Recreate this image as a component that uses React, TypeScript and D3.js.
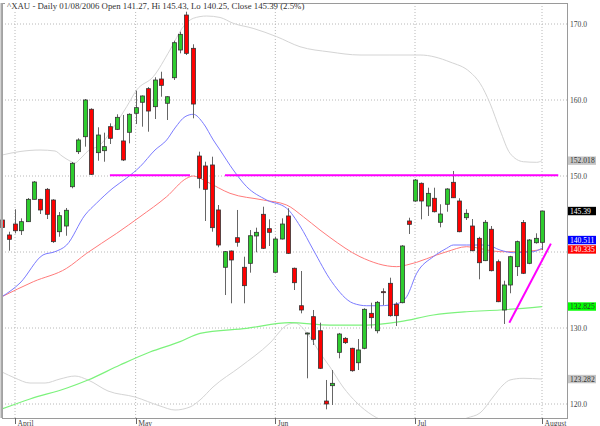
import React from 'react';
import * as d3 from 'd3';

// ---------- DATA ----------
const startIndex = -2; // trading-day index of first candle (Apr 3, 2006 = 0)
const opens = [144.21,142.24,143.68,142.80,143.99,146.93,146.93,148.25,146.84,142.67,143.42,148.59,153.20,155.17,158.78,153.07,153.33,156.49,156.14,154.61,155.75,158.25,159.70,161.49,159.12,162.76,159.57,162.93,166.58,171.18,166.80,152.63,151.32,151.45,145.53,137.99,140.13,141.88,137.99,138.51,142.11,144.96,143.07,137.33,141.71,144.74,137.86,132.93,129.24,131.49,129.64,120.39,122.41,126.80,128.64,127.33,125.43,127.33,131.93,129.64,134.78,135.88,133.12,133.33,144.08,146.71,149.04,146.05,147.07,143.91,146.28,149.17,146.71,144.51,143.42,141.80,138.86,142.99,138.72,132.37,135.66,138.07,143.87,138.51,141.22,141.27];
const highs = [144.64,142.67,145.62,144.43,147.10,149.34,147.00,148.42,146.95,145.26,145.79,151.84,154.96,160.13,158.91,156.41,155.70,156.93,158.12,158.03,158.25,161.22,160.60,161.70,162.99,163.72,160.50,167.80,168.99,171.62,167.33,153.20,151.88,152.54,146.18,140.13,140.20,145.53,139.38,142.89,143.20,145.96,144.30,142.01,144.43,145.75,137.95,137.50,129.40,132.37,130.70,123.16,124.47,129.35,128.80,127.40,128.55,132.60,133.33,133.55,135.22,136.62,133.38,140.90,144.51,149.60,149.15,148.46,148.46,146.28,148.40,150.66,147.07,145.62,144.34,142.00,144.21,143.42,139.00,136.22,139.50,141.50,144.21,141.70,142.46,145.43];
const lows = [142.01,140.17,142.46,142.24,143.95,146.93,145.00,144.34,141.20,142.01,142.14,148.38,152.89,153.86,150.13,152.01,151.88,154.21,156.05,151.97,154.30,156.84,156.49,155.83,157.50,160.43,157.37,162.63,166.14,165.92,157.59,148.38,144.08,142.67,140.62,134.34,133.25,140.70,133.25,137.28,139.96,140.40,140.79,137.30,141.65,139.75,135.00,131.93,123.38,127.76,124.60,119.30,119.87,126.01,127.90,124.25,124.47,127.20,129.96,129.30,133.03,131.50,130.26,133.25,142.37,146.60,144.30,144.74,145.20,143.25,145.30,147.10,142.60,144.21,140.10,136.41,138.80,137.45,133.40,130.53,134.57,136.84,137.10,138.40,141.10,140.25];
const closes = [143.22,141.67,142.80,143.99,146.93,149.21,145.53,144.96,141.36,144.78,145.49,151.67,154.74,160.00,150.22,155.39,153.86,154.96,157.72,152.11,158.12,158.99,160.53,158.55,162.63,161.93,160.43,167.54,168.64,166.14,159.47,149.70,148.25,143.20,140.92,140.04,138.95,141.28,135.57,142.14,142.59,140.49,142.59,141.71,143.68,139.83,135.96,132.37,129.34,128.51,124.70,120.00,122.72,129.21,128.07,124.38,127.11,132.46,131.36,133.38,134.74,131.62,131.62,140.79,143.64,149.47,146.71,147.72,145.30,145.00,148.29,147.14,142.67,145.09,140.17,138.59,143.91,137.54,133.46,135.66,139.38,141.36,137.20,141.58,141.80,145.39];

const monthTickIndex = [0, 19, 41, 63, 83];
const monthLabels = ['April', 'May', 'Jun', 'Jul', 'August'];
const priceTicks = [120, 130, 140, 150, 160, 170];

// overlays: [trading-day index, price]
const blueMA: [number, number][] = [[-2.05,134.12],[0.79,135.92],[4.41,139.61],[6.3,140.04],[8.14,140.92],[11.03,144.87],[12.87,146.45],[15.44,148.42],[17.59,149.74],[19.69,151.22],[22.05,153.42],[23.89,154.74],[25.2,156.32],[26.78,157.8],[28.08,158.12],[29.66,156.93],[31.23,154.74],[32.29,153.42],[34.38,150.79],[36.49,148.59],[39.64,146.84],[42.79,145.75],[44.89,143.42],[46.99,140.26],[49.88,136.09],[53.28,133.25],[55.39,132.93],[57.49,132.93],[60.37,133.25],[61.69,134.12],[63.27,137.2],[65.88,139.38],[67.99,140.49],[69.03,140.92],[71.14,140.92],[74.29,140.92],[76.39,140.26],[78.48,139.91],[80.06,139.96],[81.63,140.04],[83,140.511]];
const redMA: [number, number][] = [[-2.05,134.12],[2.88,136.09],[8.14,137.86],[11.29,139.83],[16.02,142.46],[19.69,144.64],[23.89,147.28],[27.04,149.7],[28.08,150.0],[30.19,149.25],[33.86,147.72],[39.11,146.84],[42.79,146.18],[45.41,144.64],[48.04,142.89],[49.61,141.91],[54.34,139.38],[60.12,138.07],[61.69,138.29],[67.99,140.04],[71.14,140.7],[76.39,140.04],[79.54,140.04],[83,140.335]];
const greenMA: [number, number][] = [[-2.05,119.34],[2.36,120.66],[8.19,122.11],[11.5,123.16],[16.54,125.13],[21.26,126.84],[26.0,128.2],[29.14,129.3],[36.49,129.96],[43.31,130.7],[49.61,130.39],[55.39,130.39],[60.64,130.83],[65.88,131.71],[71.14,132.14],[76.39,132.37],[83,132.825]];
const bbUpper: [number, number][] = [[-2.05,152.76],[0.79,153.22],[3.94,153.42],[6.3,153.29],[7.4,152.63],[8.66,151.97],[9.45,151.71],[10.24,152.24],[11.5,153.29],[13.39,154.08],[15.75,156.71],[17.59,159.12],[19.17,161.32],[21.78,163.07],[24.41,166.58],[26.51,169.64],[28.08,170.75],[30.19,171.05],[32.29,170.86],[34.38,170.09],[37.49,169.43],[41.22,168.33],[44.89,167.01],[49.61,166.32],[54.34,165.92],[59.06,165.92],[63.79,165.92],[68.51,165.0],[71.66,163.68],[73.24,162.2],[74.81,159.57],[76.39,156.05],[77.96,152.99],[80.06,151.88],[82.17,151.8],[83,152.018]];
const bbLower: [number, number][] = [[-2.05,124.21],[0,123.42],[2.36,122.76],[4.73,122.76],[7.09,123.29],[9.45,123.68],[11.5,123.16],[14.65,121.71],[18.9,120.92],[22.84,119.74],[25.2,119.21],[27.56,119.61],[29.14,120.53],[31.19,122.24],[35.44,124.87],[40.16,128.03],[42.84,130.39],[44.1,130.66],[45.99,129.34],[48.04,126.71],[49.61,124.87],[51.66,122.24],[53.87,120.13],[56.23,118.55],[59.06,117.5],[63.79,116.97],[68.51,117.24],[71.19,118.16],[73.24,118.82],[75.29,120.92],[76.86,122.5],[77.96,123.16],[80.01,123.38],[83,123.282]];

const trendLines: [number, number][][] = [
  [[14.95, 150.1], [27.56, 150.1]],
  [[33.07, 150.1], [85.56, 150.1]],
  [[77.85, 130.7], [84.4, 141.1]],
];

const lastValues = [152.018, 145.39, 140.511, 140.335, 132.825, 123.282];
const lastTexts = ['152.018', '145.39', '140.511', '140.335', '132.825', '123.282'];
const lastFills = ['#c6c6c6', '#000000', '#0000ff', '#ff0000', '#00ff00', '#c6c6c6'];
const lastInk = ['#333333', '#ffffff', '#ffffff', '#ffffff', '#333333', '#333333'];

const titleText = '^XAU - Daily 01/08/2006 Open 141.27, Hi 145.43, Lo 140.25, Close 145.39 (2.5%)';

// ---------- LAYOUT ----------
const W = 600, H = 426;
const left = 2, right = 567, top = 3, bottom = 418;
const FONT = '"Liberation Serif", "Times New Roman", serif';

export default function App() {
  const x = d3.scaleLinear().domain([0, 83]).range([15, 542]);
  const y = d3.scaleLinear().domain([120, 170]).range([404, 24]);
  const line = d3.line<[number, number]>().x(d => x(d[0])).y(d => y(d[1])).curve(d3.curveMonotoneX);
  const straight = d3.line<[number, number]>().x(d => x(d[0])).y(d => y(d[1]));

  // right-side value boxes with collision avoidance
  const boxH = 9.4;
  const order = lastValues.map((v, i) => i).sort((a, b) => lastValues[a] - lastValues[b]);
  const boxY: number[] = new Array(lastValues.length);
  let prev = Infinity;
  for (const i of order) {
    let cy = y(lastValues[i]);
    if (cy > prev - boxH) cy = prev - boxH;
    boxY[i] = cy;
    prev = cy;
  }

  const visibleTicks = priceTicks.filter(t => boxY.every(b => Math.abs(b - y(t)) > 5));

  return (
    <svg width={W} height={H} style={{ position: 'fixed', left: 0, top: 0, background: '#fff' }} fontFamily={FONT}>
      <defs>
        <clipPath id="plot">
          <rect x={left} y={top} width={right - left} height={bottom - top} />
        </clipPath>
      </defs>
      <rect x={0} y={0} width={W} height={H} fill="#fff" />
      {/* grid */}
      {priceTicks.map(t => (
        <line key={'h' + t} x1={left} x2={right + 2} y1={y(t)} y2={y(t)} stroke="#b8b8b8" strokeDasharray="1,2" />
      ))}
      {monthTickIndex.map(m => (
        <line key={'v' + m} x1={x(m)} x2={x(m)} y1={top} y2={bottom} stroke="#b8b8b8" strokeDasharray="1,2" />
      ))}
      <g clipPath="url(#plot)" fill="none">
        <path d={line(bbUpper) || ''} stroke="#d4d4d4" strokeWidth={1} />
        <path d={line(bbLower) || ''} stroke="#d4d4d4" strokeWidth={1} />
        <path d={line(greenMA) || ''} stroke="#7cf27c" strokeWidth={1.2} />
        <path d={line(redMA) || ''} stroke="#ff7b7b" strokeWidth={1} />
        <path d={line(blueMA) || ''} stroke="#7b7bff" strokeWidth={1} />
      </g>
      {/* candles */}
      <g>
        {opens.map((o, k) => {
          const i = k + startIndex;
          const c = closes[k];
          const cx = Math.round(x(i)) + 0.5;
          const up = c >= o;
          const yTop = y(Math.max(o, c));
          const yBot = y(Math.min(o, c));
          return (
            <g key={k}>
              <line x1={cx} x2={cx} y1={y(highs[k])} y2={y(lows[k])} stroke="#666" strokeWidth={1} />
              <rect x={cx - 2} y={yTop} width={4} height={Math.max(1, yBot - yTop)}
                fill={up ? '#2ecc2e' : '#ff0000'} stroke="#333" strokeWidth={0.8} />
            </g>
          );
        })}
      </g>
      {/* trend lines */}
      {trendLines.map((tl, k) => (
        <path key={'t' + k} d={straight(tl) || ''} stroke="#ff00ff" strokeWidth={2} fill="none" />
      ))}
      {/* frame */}
      <rect x={left + 0.5} y={top + 0.5} width={right - left} height={bottom - top} fill="none" stroke="#9a9a9a" />
      <line x1={1.5} x2={1.5} y1={top} y2={bottom} stroke="#aaa" strokeWidth={2} />
      {/* title */}
      <rect x={5} y={0} width={261} height={10} fill="#fff" />
      <text x={7} y={8.5} fontSize={8.8} fill="#333">{titleText}</text>
      {/* right axis labels */}
      {visibleTicks.map(t => (
        <text key={'l' + t} x={570} y={y(t) + 2.6} fontSize={7.6} fill="#444">{t.toFixed(1)}</text>
      ))}
      {lastValues.map((v, i) => (
        <g key={'b' + i}>
          <rect x={568} y={boxY[i] - boxH / 2 + 0.5} width={28} height={boxH - 1} fill={lastFills[i]} />
          <text x={570} y={boxY[i] + 2.6} fontSize={7.6} fill={lastInk[i]}>{lastTexts[i]}</text>
        </g>
      ))}
      {/* month axis */}
      {monthTickIndex.map((m, k) => (
        <g key={'m' + k}>
          <line x1={Math.round(x(m)) + 0.5} x2={Math.round(x(m)) + 0.5} y1={bottom} y2={bottom + 6} stroke="#666" />
          <text x={x(m) + 2.5} y={bottom + 7.5} fontSize={7.6} fill="#444">{monthLabels[k]}</text>
        </g>
      ))}
    </svg>
  );
}
